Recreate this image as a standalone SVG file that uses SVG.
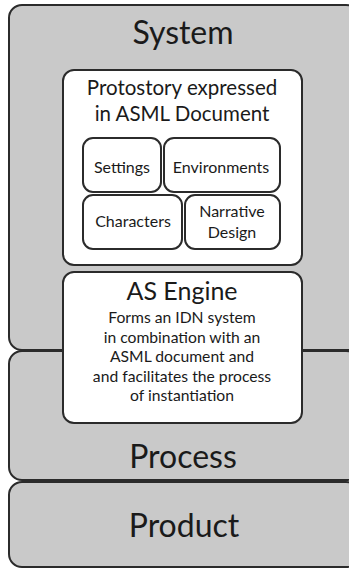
<svg xmlns="http://www.w3.org/2000/svg" width="349" height="568" viewBox="0 0 349 568">
  <style>
    .layer { fill: #c9c9c9; stroke: #2b2b2b; stroke-width: 2; }
    .card { fill: #ffffff; stroke: #2b2b2b; stroke-width: 2; }
    text { font-family: Lato, "Open Sans", "Noto Sans", sans-serif; fill: #1a1a1a; text-anchor: middle; }
    .big { font-size: 32px; }
    .mid { font-size: 25px; }
    .head { font-size: 20.5px; }
    .small { font-size: 16px; }
    .body { font-size: 15.7px; }
  </style>
  <rect width="349" height="568" fill="#ffffff"/>

  <!-- outer layers -->
  <g id="system">
    <rect class="layer" x="9" y="5" width="350" height="345" rx="13"/>
    <text class="big" x="183" y="44">System</text>
  </g>
  <g id="process">
    <rect class="layer" x="9" y="351" width="350" height="129" rx="13"/>
    <text class="big" x="183" y="468">Process</text>
  </g>
  <g id="product">
    <rect class="layer" x="9" y="482" width="350" height="85" rx="13"/>
    <text class="big" x="184" y="537">Product</text>
  </g>

  <!-- protostory document and its parts -->
  <g id="protostory">
    <rect class="card" x="63" y="70" width="239" height="195" rx="11"/>
    <text class="head" x="182" y="95">Protostory expressed</text>
    <text class="head" x="182" y="121">in ASML Document</text>
  </g>
  <g id="settings">
    <rect class="card" x="83" y="138" width="78" height="54" rx="10"/>
    <text class="small" x="122" y="173">Settings</text>
  </g>
  <g id="environments">
    <rect class="card" x="164" y="138" width="116" height="54" rx="10"/>
    <text class="small" x="221" y="173">Environments</text>
  </g>
  <g id="characters">
    <rect class="card" x="83" y="195" width="99" height="54" rx="10"/>
    <text class="small" x="133" y="227">Characters</text>
  </g>
  <g id="narrative-design">
    <rect class="card" x="185" y="195" width="95" height="54" rx="10"/>
    <text class="small" x="232" y="217">Narrative</text>
    <text class="small" x="232" y="238">Design</text>
  </g>

  <!-- engine -->
  <g id="as-engine">
    <rect class="card" x="63" y="272" width="239" height="151" rx="11"/>
    <text class="mid" x="182" y="300">AS Engine</text>
    <text class="body" x="182" y="323">Forms an IDN system</text>
    <text class="body" x="182" y="343">in combination with an</text>
    <text class="body" x="182" y="362">ASML document and</text>
    <text class="body" x="182" y="382">and facilitates the process</text>
    <text class="body" x="182" y="401">of instantiation</text>
  </g>

  <g id="connectors"/>
</svg>
